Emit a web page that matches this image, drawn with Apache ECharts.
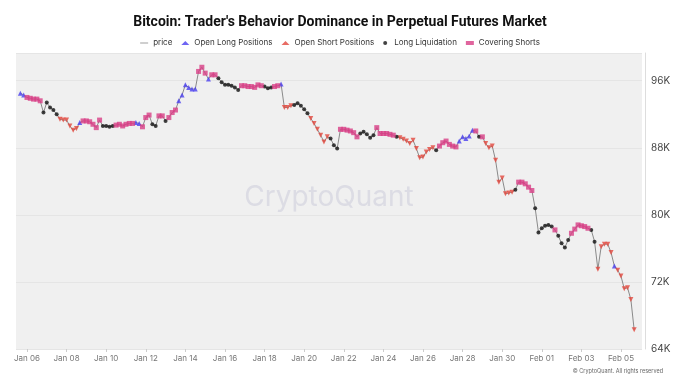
<!DOCTYPE html>
<html>
<head>
<meta charset="utf-8">
<script src="https://cdn.jsdelivr.net/npm/echarts@6/dist/echarts.min.js"></script>
<style>html,body{margin:0;padding:0;background:#fff}#c{width:680px;height:383px}</style>
</head>
<body>
<div id="c"></div>
<script>
// Price in thousands USD, one reading every 4 hours, first reading Jan 05 16:00
const priceK = [
  // Jan 05 (16h, 20h)
  94.5, 94.3,
  // Jan 06
  94.0, 93.9, 93.8, 93.8, 93.6, 92.2,
  // Jan 07
  93.4, 92.8, 92.5, 92.0, 91.4, 91.3,
  // Jan 08
  91.3, 90.6, 90.1, 90.3, 91.0, 91.2,
  // Jan 09
  91.2, 91.1, 90.8, 90.4, 91.3, 90.6,
  // Jan 10
  90.6, 90.5, 90.6, 90.7, 90.8, 90.6,
  // Jan 11
  90.8, 90.9, 90.9, 91.0, 90.9, 90.5,
  // Jan 12
  91.6, 91.9, 90.8, 90.6, 91.8, 91.8,
  // Jan 13
  91.2, 91.6, 92.2, 92.5, 93.6, 94.3,
  // Jan 14
  95.5, 95.2, 95.0, 95.0, 97.1, 97.6,
  // Jan 15
  96.9, 96.2, 96.7, 96.7, 96.3, 95.8,
  // Jan 16
  95.5, 95.5, 95.4, 95.2, 94.9, 95.4,
  // Jan 17
  95.4, 95.3, 95.3, 95.2, 95.5, 95.4,
  // Jan 18
  95.3, 95.1, 95.2, 95.3, 95.4, 95.6,
  // Jan 19
  92.8, 92.8, 93.0, 93.1, 93.3, 93.0,
  // Jan 20
  92.6, 92.1, 91.5, 90.9, 90.2, 89.5,
  // Jan 21
  88.7, 89.3, 89.1, 88.3, 87.9, 90.2,
  // Jan 22
  90.2, 90.1, 90.0, 89.8, 89.3, 89.7,
  // Jan 23
  89.9, 89.6, 89.2, 89.5, 90.4, 89.7,
  // Jan 24
  89.7, 89.7, 89.6, 89.5, 89.3, 89.2,
  // Jan 25
  89.0, 88.8, 88.5, 88.9, 87.9, 86.8,
  // Jan 26
  86.9, 87.5, 87.8, 88.0, 87.7, 88.2,
  // Jan 27
  88.6, 88.8, 88.4, 88.2, 88.1, 88.8,
  // Jan 28
  89.3, 89.1, 89.4, 90.1, 90.0, 89.3,
  // Jan 29
  89.3, 88.5, 88.0, 88.2, 86.5, 83.9,
  // Jan 30
  84.4, 82.5, 82.6, 82.7, 83.0, 83.9,
  // Jan 31
  83.9, 83.7, 83.3, 82.9, 80.8, 77.9,
  // Feb 01
  78.4, 78.7, 78.8, 78.6, 78.2, 77.5,
  // Feb 02
  76.6, 76.1, 77.0, 77.8, 78.3, 78.8,
  // Feb 03
  78.7, 78.6, 78.4, 78.2, 76.8, 73.5,
  // Feb 04
  76.2, 76.5, 76.5, 75.5, 73.9, 73.4,
  // Feb 05
  72.7, 71.2, 71.3, 69.9, 66.3
];
// Dominant behaviour per reading: L = open long, S = open short, Q = long liquidation, C = covering shorts
const behavior = [
  'LL',
  'CCCCCQ', 'QQQQSS', 'SSSSLC', 'CCCCCQ', 'QQQCCC', 'CCCLLC', 'CCQQCC', 'QCCCLL',
  'LLLLCC', 'CLCCQQ', 'QQQQQC', 'CCCCCC', 'QQQCCL', 'SSSQQQ', 'QQSSSS', 'SSQQQC',
  'CCCCCQ', 'QQQQCC', 'CCCCQS', 'SSSSSS', 'SSSSQC', 'CCCCCL', 'LLLLCQ', 'CSSSSS',
  'SSSSQC', 'CCCCQQ', 'QQQQCQ', 'QQQCCC', 'CCCQQS', 'SSSSLS',
  'SSSSS'
].join('');
const firstHour = -8;      // hours relative to Jan 06 00:00
const stepHours = 4;
const tickLabels = ['Jan 06', 'Jan 08', 'Jan 10', 'Jan 12', 'Jan 14', 'Jan 16', 'Jan 18', 'Jan 20',
  'Jan 22', 'Jan 24', 'Jan 26', 'Jan 28', 'Jan 30', 'Feb 01', 'Feb 03', 'Feb 05'];
const tickStepHours = 48;
const yTicks = [64, 72, 80, 88, 96];
const seriesNames = {
  L: 'Open Long Positions',
  S: 'Open Short Positions',
  Q: 'Long Liquidation',
  C: 'Covering Shorts'
};

const hours = priceK.map((_, i) => firstHour + i * stepHours);
const linePts = priceK.map((v, i) => [hours[i], v]);
function pts(code) {
  const out = [];
  for (let i = 0; i < priceK.length; i++) if (behavior[i] === code) out.push([hours[i], priceK[i]]);
  return out;
}
const tickVals = tickLabels.map((_, i) => i * tickStepHours);

const chart = echarts.init(document.getElementById('c'));
const FONT = 'Inter, "Noto Sans", sans-serif';
chart.setOption({
  animation: false,
  textStyle: { fontFamily: FONT },
  title: {
    text: "Bitcoin: Trader's Behavior Dominance in Perpetual Futures Market",
    left: 'center', top: 10,
    textStyle: { fontSize: 14, fontWeight: 'bold', color: '#111', fontFamily: 'Roboto, Inter, sans-serif' }
  },
  legend: {
    top: 34, left: 'center', itemGap: 9, itemWidth: 8, itemHeight: 4,
    textStyle: { fontSize: 8, color: '#333', fontFamily: FONT },
    data: [
      { name: 'price', icon: 'path://M0 0H16V1.6H0Z', itemStyle: { color: '#888' } },
      seriesNames.L, seriesNames.S, seriesNames.Q, seriesNames.C
    ]
  },
  grid: { left: 16, right: 38, top: 53, bottom: 34, show: true, backgroundColor: '#f0f0f0', borderWidth: 0 },
  xAxis: {
    type: 'value', min: -13.3, max: 745.5,
    axisLine: { show: false },
    splitLine: { show: false },
    axisTick: { show: true, customValues: tickVals, length: 3, lineStyle: { color: '#ccc' } },
    axisLabel: {
      customValues: tickVals, fontSize: 8, color: '#777', margin: 6,
      formatter: v => tickLabels[Math.round(v / tickStepHours)] || ''
    }
  },
  yAxis: {
    type: 'value', position: 'right', min: 64, max: 99.3, interval: 8, offset: 3,
    axisLine: { show: true, onZero: false, lineStyle: { color: '#ddd' } },
    axisTick: { show: false },
    splitLine: { show: true, lineStyle: { color: '#e5e5e5' } },
    axisLabel: {
      customValues: yTicks, fontSize: 10, color: '#444', margin: 6,
      formatter: v => v + 'K'
    }
  },
  graphic: [
    { type: 'text', x: 329, y: 184, z: 0, silent: true,
      style: { text: 'CryptoQuant', fontSize: 28, fontFamily: FONT, textAlign: 'center', fill: 'rgba(195,195,212,0.45)' } },
    { type: 'text', right: 17, top: 368, silent: true,
      style: { text: '© CryptoQuant. All rights reserved', fontSize: 5.5, fontFamily: FONT, fill: '#666' } }
  ],
  series: [
    { name: 'price', type: 'line', data: linePts, showSymbol: false, symbol: 'none',
      lineStyle: { color: '#8a8a8a', width: 1 }, itemStyle: { color: '#8a8a8a' }, z: 2 },
    { name: seriesNames.L, type: 'scatter', data: pts('L'), symbol: 'triangle', symbolSize: 5,
      itemStyle: { color: '#4a3ff0' }, z: 3 },
    { name: seriesNames.S, type: 'scatter', data: pts('S'), symbol: 'triangle', symbolRotate: 180, symbolSize: 5,
      itemStyle: { color: '#e2473d' }, z: 3 },
    { name: seriesNames.Q, type: 'scatter', data: pts('Q'), symbol: 'circle', symbolSize: 4,
      itemStyle: { color: '#111' }, z: 3 },
    { name: seriesNames.C, type: 'scatter', data: pts('C'), symbol: 'rect', symbolSize: 5,
      itemStyle: { color: '#d83f86' }, z: 3 }
  ]
});
</script>
</body>
</html>
